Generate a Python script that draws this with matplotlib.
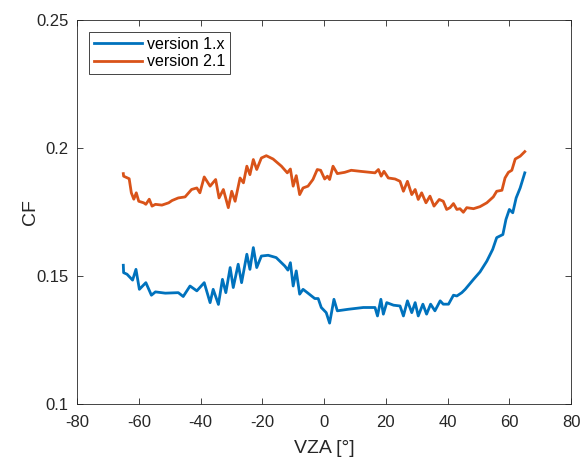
import matplotlib
matplotlib.use('Agg')
import matplotlib.pyplot as plt
from matplotlib.ticker import FormatStrFormatter

# version 1.x (blue)
vza_v1 = [-65, -64.9, -63.8, -62, -60.9, -59.8, -57.7, -55.9, -54.6, -51.4, -47.2,
          -45.6, -43.4, -41.2, -38.8, -36.9, -35.9, -34.2, -32.9, -31.8, -30.4, -29.4,
          -27.8, -26.7, -25, -24, -22.9, -21.8, -20.3, -18.1, -15.5, -12.7, -11.7, -10.9,
          -10, -9, -7.9, -6.8, -5.2, -3, -1.9, -0.9, 0.7, 1.8, 3.2, 4.3, 7.8, 12.7,
          16.5, 17.3, 18.4, 19.2, 20.3, 22.5, 24.6, 25.7, 27, 28.4, 29.5, 30.5, 32,
          33.2, 34.5, 35.9, 37.6, 38.6, 40.3, 41.9, 43, 44.6, 45.7, 48.4, 50.5, 52.7,
          54.6, 55.9, 57.9, 58.9, 60, 61.1, 62.2, 63.5, 65]
cf_v1 = [0.1542, 0.1513, 0.1507, 0.1484, 0.1526, 0.1448, 0.1474, 0.1425, 0.1438, 0.1433,
         0.1435, 0.142, 0.1461, 0.1442, 0.1474, 0.1396, 0.1448, 0.1389, 0.1487, 0.1435,
         0.1533, 0.1455, 0.1546, 0.1474, 0.1585, 0.1526, 0.1611, 0.1533, 0.1578, 0.1581,
         0.1572, 0.1539, 0.1523, 0.1552, 0.1461, 0.152, 0.1429, 0.1448, 0.1433, 0.1412,
         0.1412, 0.1377, 0.1357, 0.1316, 0.1409, 0.1364, 0.137, 0.1377, 0.1377, 0.1344,
         0.1409, 0.1351, 0.1396, 0.1386, 0.1383, 0.1344, 0.1403, 0.1357, 0.1396, 0.1344,
         0.139, 0.1351, 0.139, 0.1364, 0.1403, 0.139, 0.139, 0.1425, 0.1422, 0.1435,
         0.1448, 0.1487, 0.1516, 0.1558, 0.1604, 0.165, 0.1662, 0.1721, 0.176, 0.1747,
         0.1805, 0.1844, 0.1903]

# version 2.1 (orange)
vza_v2 = [-65, -64.9, -63.1, -62.4, -61.6, -60.8, -60, -58.4, -57.7, -56.6, -55.7,
          -54.6, -52.5, -50.3, -49.2, -47.2, -45, -42.9, -41.2, -40.2, -38.8, -36.9,
          -35.1, -34, -32.6, -31, -29.9, -28.8, -27.2, -26.1, -25, -24, -22.9, -21.8,
          -20.3, -18.7, -16.5, -13.8, -11.9, -10.9, -10, -9, -7.9, -6.8, -5.2, -3.6,
          -2.2, -1.1, 0.2, 1.1, 1.8, 2.9, 4.3, 6.7, 8.8, 11.7, 14.9, 16.5, 17.6, 18.5,
          19.4, 20.8, 23, 24.6, 25.7, 27, 28.4, 29.5, 30.5, 31.6, 33, 34.3, 35.6, 37.3,
          38.6, 39.7, 40.8, 41.9, 43, 44, 45.1, 46.2, 48.4, 50.5, 52.7, 54.8, 55.9,
          57.6, 58.6, 59.7, 60.8, 61.9, 63.5, 65]
cf_v2 = [0.19, 0.189, 0.188, 0.1825, 0.180, 0.1825, 0.1792, 0.1786, 0.178, 0.180, 0.1773,
         0.178, 0.1777, 0.1786, 0.1795, 0.1805, 0.1809, 0.1838, 0.1844, 0.1825, 0.1887,
         0.1851, 0.1877, 0.1805, 0.1838, 0.1767, 0.1831, 0.1792, 0.1883, 0.1864, 0.1929,
         0.1896, 0.1955, 0.1916, 0.1961, 0.197, 0.1957, 0.1929, 0.1903, 0.1918, 0.1851,
         0.1892, 0.1818, 0.1844, 0.1851, 0.1877, 0.1916, 0.1913, 0.1879, 0.189, 0.1877,
         0.1929, 0.19, 0.1905, 0.1913, 0.1909, 0.1905, 0.1903, 0.1916, 0.189, 0.1909,
         0.1883, 0.1879, 0.187, 0.1831, 0.187, 0.1818, 0.1838, 0.1799, 0.1825, 0.1786,
         0.1812, 0.1773, 0.1799, 0.1792, 0.176, 0.1767, 0.1783, 0.176, 0.1763, 0.1749,
         0.1767, 0.1763, 0.1771, 0.1786, 0.1809, 0.1831, 0.1835, 0.1883, 0.1905, 0.1913,
         0.1957, 0.1968, 0.1986]

x_ticks = [-80, -60, -40, -20, 0, 20, 40, 60, 80]
y_ticks = [0.1, 0.15, 0.2, 0.25]

plt.rcParams['font.family'] = ['Liberation Sans', 'DejaVu Sans']
plt.rcParams['axes.unicode_minus'] = False
axis_col = '#262626'

fig = plt.figure(figsize=(5.81, 4.59), dpi=100)
ax = fig.add_axes([0.1325, 0.1198, 0.8505, 0.8366])

ax.plot(vza_v1, cf_v1, color='#0072BD', lw=2, label='version 1.x')
ax.plot(vza_v2, cf_v2, color='#D95319', lw=2, label='version 2.1')

ax.set_xlim(-80, 80)
ax.set_ylim(0.1, 0.25)
ax.set_xticks(x_ticks)
ax.set_yticks(y_ticks)
ax.yaxis.set_major_formatter(FormatStrFormatter('%g'))
ax.tick_params(direction='in', top=True, right=True, length=4, width=0.6,
               labelsize=12, colors=axis_col)
ax.tick_params(axis='x', pad=8)
ax.tick_params(axis='y', pad=6)
for sp in ax.spines.values():
    sp.set_color(axis_col)
    sp.set_linewidth(0.6)

ax.set_xlabel('VZA [°]', fontsize=14, color=axis_col, labelpad=7)
ax.set_ylabel('CF', fontsize=14, color=axis_col, labelpad=-2)

leg = ax.legend(loc='upper left', fontsize=11.5, handlelength=3.0, fancybox=False,
                framealpha=1, edgecolor=axis_col, borderpad=0.3, labelspacing=0.15,
                handletextpad=0.35, borderaxespad=0.75)
leg.get_frame().set_linewidth(0.6)

fig.savefig('out.png', dpi=100)
